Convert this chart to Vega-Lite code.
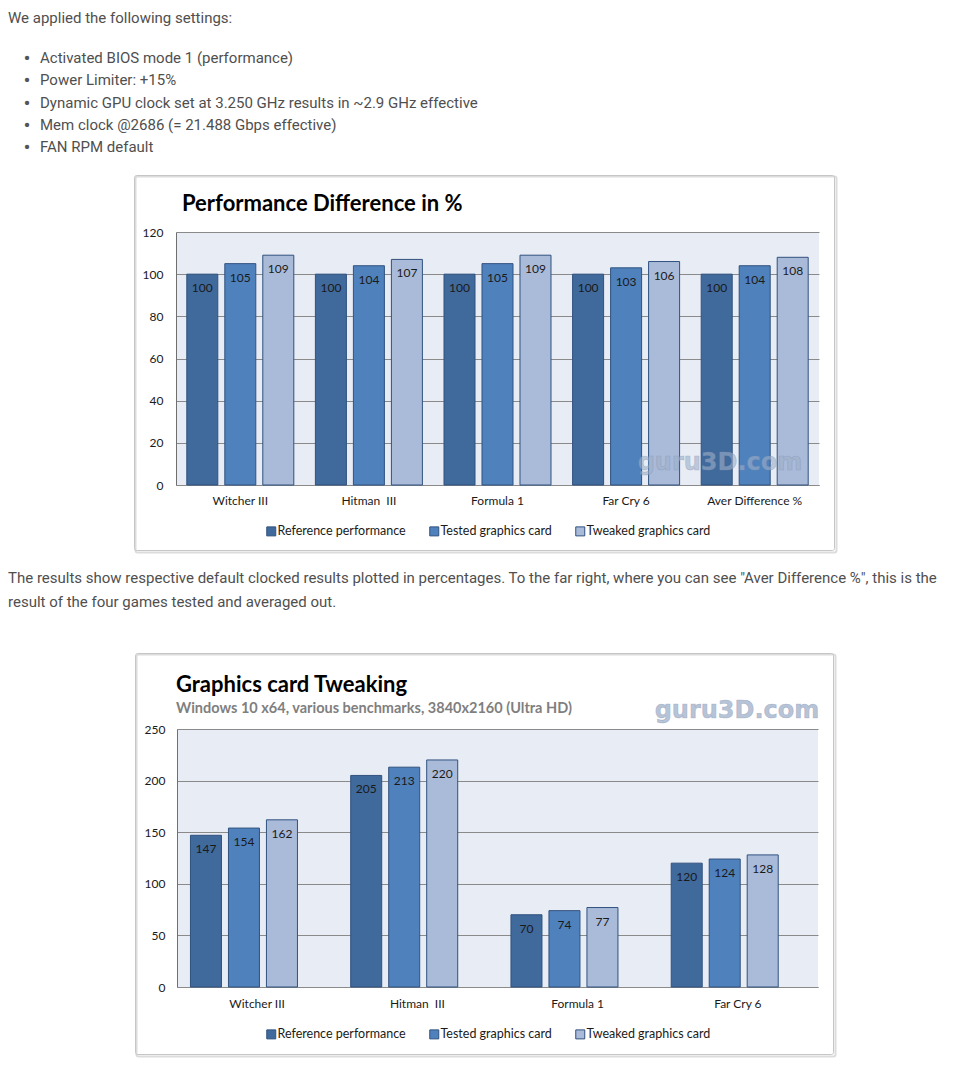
{
  "$schema": "https://vega.github.io/schema/vega-lite/v6.json",
  "background": "white",
  "autosize": {"type": "none"},
  "padding": {"left": 176, "top": 232, "right": 781, "bottom": 859},
  "config": {
    "view": {"stroke": null},
    "font": "Lato",
    "axis": {"labelFont": "Lato", "labelFontSize": 12, "labelColor": "#1a1a1a", "ticks": false, "tickSize": 0, "gridColor": "#8a8a8a", "gridOpacity": 1, "gridWidth": 1, "domainWidth": 1},
    "legend": {"labelFont": "Lato", "labelFontSize": 12.5, "labelColor": "#1a1a1a"}
  },
  "datasets": {
    "perf": [
      {"game": "Witcher III", "series": "Reference performance", "value": 100},
      {"game": "Witcher III", "series": "Tested graphics card", "value": 105},
      {"game": "Witcher III", "series": "Tweaked graphics card", "value": 109},
      {"game": "Hitman\u00a0 III", "series": "Reference performance", "value": 100},
      {"game": "Hitman\u00a0 III", "series": "Tested graphics card", "value": 104},
      {"game": "Hitman\u00a0 III", "series": "Tweaked graphics card", "value": 107},
      {"game": "Formula 1", "series": "Reference performance", "value": 100},
      {"game": "Formula 1", "series": "Tested graphics card", "value": 105},
      {"game": "Formula 1", "series": "Tweaked graphics card", "value": 109},
      {"game": "Far Cry 6", "series": "Reference performance", "value": 100},
      {"game": "Far Cry 6", "series": "Tested graphics card", "value": 103},
      {"game": "Far Cry 6", "series": "Tweaked graphics card", "value": 106},
      {"game": "Aver Difference %", "series": "Reference performance", "value": 100},
      {"game": "Aver Difference %", "series": "Tested graphics card", "value": 104},
      {"game": "Aver Difference %", "series": "Tweaked graphics card", "value": 108}
    ],
    "tweak": [
      {"game": "Witcher III", "series": "Reference performance", "value": 147},
      {"game": "Witcher III", "series": "Tested graphics card", "value": 154},
      {"game": "Witcher III", "series": "Tweaked graphics card", "value": 162},
      {"game": "Hitman\u00a0 III", "series": "Reference performance", "value": 205},
      {"game": "Hitman\u00a0 III", "series": "Tested graphics card", "value": 213},
      {"game": "Hitman\u00a0 III", "series": "Tweaked graphics card", "value": 220},
      {"game": "Formula 1", "series": "Reference performance", "value": 70},
      {"game": "Formula 1", "series": "Tested graphics card", "value": 74},
      {"game": "Formula 1", "series": "Tweaked graphics card", "value": 77},
      {"game": "Far Cry 6", "series": "Reference performance", "value": 120},
      {"game": "Far Cry 6", "series": "Tested graphics card", "value": 124},
      {"game": "Far Cry 6", "series": "Tweaked graphics card", "value": 128}
    ]
  },
  "spacing": 244,
  "bounds": "flush",
  "center": true,
  "resolve": {"scale": {"color": "independent"}, "legend": {"color": "independent"}},
  "vconcat": [
    {
      "width": 643,
      "height": 253,
      "view": {"fill": "#e8ecf4", "stroke": null},
      "data": {"name": "perf"},
      "layer": [
        {"data": {"values": [{}]}, "mark": {"type": "rect", "fill": "transparent", "stroke": "#dcdcdc", "strokeWidth": 2, "cornerRadius": 2, "x": -40.5, "x2": 660.5, "y": -55.5, "y2": 320.5}, "encoding": {}},
        {"data": {"values": [{}]}, "mark": {"type": "rect", "fill": "transparent", "stroke": "#c6c6c6", "strokeWidth": 1, "cornerRadius": 2, "x": -41.5, "x2": 658.5, "y": -56.5, "y2": 318.5}, "encoding": {}},
        {"data": {"values": [{}]}, "mark": {"type": "text", "text": "We applied the following settings:", "font": "Roboto", "fontSize": 15, "fill": "#4f4f4f", "align": "left", "baseline": "alphabetic", "x": -168, "y": -209}, "encoding": {}},
        {"data": {"values": [{}]}, "mark": {"type": "text", "text": ["•", "•", "•", "•", "•"], "font": "Roboto", "fontSize": 21, "lineHeight": 22.25, "fill": "#555555", "align": "center", "baseline": "alphabetic", "x": -149, "y": -167}, "encoding": {}},
        {"data": {"values": [{}]}, "mark": {"type": "text", "text": ["Activated BIOS mode 1 (performance)", "Power Limiter: +15%", "Dynamic GPU clock set at 3.250 GHz results in ~2.9 GHz effective", "Mem clock @2686 (= 21.488 Gbps effective)", "FAN RPM default"], "font": "Roboto", "fontSize": 15, "lineHeight": 22.25, "fill": "#4f4f4f", "align": "left", "baseline": "alphabetic", "x": -136, "y": -169}, "encoding": {}},
        {"data": {"values": [{}]}, "mark": {"type": "text", "text": ["The results show respective default clocked results plotted in percentages. To the far right, where you can see \"Aver Difference %\", this is the", "result of the four games tested and averaged out."], "font": "Roboto", "fontSize": 15, "lineHeight": 24, "fill": "#4f4f4f", "align": "left", "baseline": "alphabetic", "x": -168, "y": 351}, "encoding": {}},
        {"data": {"values": [{}]}, "mark": {"type": "text", "text": "Performance Difference in %", "font": "Lato", "fontWeight": "bold", "fontSize": 22, "fill": "#000000", "align": "left", "baseline": "alphabetic", "x": 6, "y": -21}, "encoding": {}},
        {
          "mark": {"type": "bar", "stroke": "#30527f", "strokeWidth": 1},
          "encoding": {
            "x": {"field": "game", "type": "nominal", "sort": null, "title": null, "scale": {"paddingInner": 0.168, "paddingOuter": 0.084}, "axis": {"title": null, "labelAngle": 0, "labelPadding": 10, "domainColor": "#8a8a8a"}},
            "xOffset": {"field": "series", "type": "nominal", "sort": null, "scale": {"paddingInner": 0.184, "paddingOuter": 0}},
            "y": {"field": "value", "type": "quantitative", "title": null, "scale": {"domain": [0, 120], "nice": false}, "axis": {"title": null, "values": [0, 20, 40, 60, 80, 100, 120], "grid": true, "labelPadding": 13, "domainColor": "#6f6f6f"}},
            "color": {"field": "series", "type": "nominal", "sort": null, "scale": {"domain": ["Reference performance", "Tested graphics card", "Tweaked graphics card"], "range": ["#40699c", "#4f81bd", "#aabad9"]}, "legend": {"title": null, "orient": "none", "legendX": 89, "legendY": 293, "direction": "horizontal", "symbolType": "square", "symbolSize": 81, "symbolStrokeColor": "#30527f", "symbolStrokeWidth": 1, "labelOffset": 0, "columnPadding": 21, "padding": 0}}
          }
        },
        {
          "mark": {"type": "text", "baseline": "middle", "dy": 14, "font": "Lato", "fontSize": 12, "fill": "#1a1a1a"},
          "encoding": {
            "x": {"field": "game", "type": "nominal", "sort": null, "title": null},
            "xOffset": {"field": "series", "type": "nominal", "sort": null},
            "y": {"field": "value", "type": "quantitative", "title": null},
            "text": {"field": "value", "type": "quantitative"}
          }
        },
        {"data": {"values": [{}]}, "mark": {"type": "text", "text": "guru3D.com", "font": "DejaVu Sans", "fontWeight": "bold", "fontSize": 24, "fill": "#9fb0c9", "fillOpacity": 0.6, "stroke": "#7f92b0", "strokeWidth": 0.6, "strokeOpacity": 0.5, "align": "center", "baseline": "middle", "x": 544, "y": 231}, "encoding": {}}
      ]
    },
    {
      "width": 641,
      "height": 258,
      "view": {"fill": "#e8ecf4", "stroke": null},
      "data": {"name": "tweak"},
      "layer": [
        {"data": {"values": [{}]}, "mark": {"type": "rect", "fill": "transparent", "stroke": "#dcdcdc", "strokeWidth": 2, "cornerRadius": 2, "x": -40.5, "x2": 658.5, "y": -74.5, "y2": 327.5}, "encoding": {}},
        {"data": {"values": [{}]}, "mark": {"type": "rect", "fill": "transparent", "stroke": "#c6c6c6", "strokeWidth": 1, "cornerRadius": 2, "x": -41.5, "x2": 656.5, "y": -75.5, "y2": 325.5}, "encoding": {}},
        {"data": {"values": [{}]}, "mark": {"type": "text", "text": "Graphics card Tweaking", "font": "Lato", "fontWeight": "bold", "fontSize": 22, "fill": "#000000", "align": "left", "baseline": "alphabetic", "x": -1, "y": -37}, "encoding": {}},
        {"data": {"values": [{}]}, "mark": {"type": "text", "text": "Windows 10 x64, various benchmarks, 3840x2160 (Ultra HD)", "font": "Lato", "fontWeight": "bold", "fontSize": 14.5, "fill": "#7f7f7f", "align": "left", "baseline": "alphabetic", "x": -1, "y": -16}, "encoding": {}},
        {
          "mark": {"type": "bar", "stroke": "#30527f", "strokeWidth": 1},
          "encoding": {
            "x": {"field": "game", "type": "nominal", "sort": null, "title": null, "scale": {"paddingInner": 0.168, "paddingOuter": 0.084}, "axis": {"title": null, "labelAngle": 0, "labelPadding": 11, "domainColor": "#8a8a8a"}},
            "xOffset": {"field": "series", "type": "nominal", "sort": null, "scale": {"paddingInner": 0.17, "paddingOuter": 0}},
            "y": {"field": "value", "type": "quantitative", "title": null, "scale": {"domain": [0, 250], "nice": false}, "axis": {"title": null, "values": [0, 50, 100, 150, 200, 250], "grid": true, "labelPadding": 12, "domainColor": "#6f6f6f"}},
            "color": {"field": "series", "type": "nominal", "sort": null, "scale": {"domain": ["Reference performance", "Tested graphics card", "Tweaked graphics card"], "range": ["#40699c", "#4f81bd", "#aabad9"]}, "legend": {"title": null, "orient": "none", "legendX": 88, "legendY": 299, "direction": "horizontal", "symbolType": "square", "symbolSize": 81, "symbolStrokeColor": "#30527f", "symbolStrokeWidth": 1, "labelOffset": 0, "columnPadding": 21, "padding": 0}}
          }
        },
        {
          "mark": {"type": "text", "baseline": "middle", "dy": 14, "font": "Lato", "fontSize": 12, "fill": "#1a1a1a"},
          "encoding": {
            "x": {"field": "game", "type": "nominal", "sort": null, "title": null},
            "xOffset": {"field": "series", "type": "nominal", "sort": null},
            "y": {"field": "value", "type": "quantitative", "title": null},
            "text": {"field": "value", "type": "quantitative"}
          }
        },
        {"data": {"values": [{}]}, "mark": {"type": "text", "text": "guru3D.com", "font": "DejaVu Sans", "fontWeight": "bold", "fontSize": 24, "fill": "#9fb0c9", "fillOpacity": 0.75, "stroke": "#7f92b0", "strokeWidth": 0.6, "strokeOpacity": 0.5, "align": "center", "baseline": "middle", "x": 560, "y": -18}, "encoding": {}}
      ]
    }
  ]
}
